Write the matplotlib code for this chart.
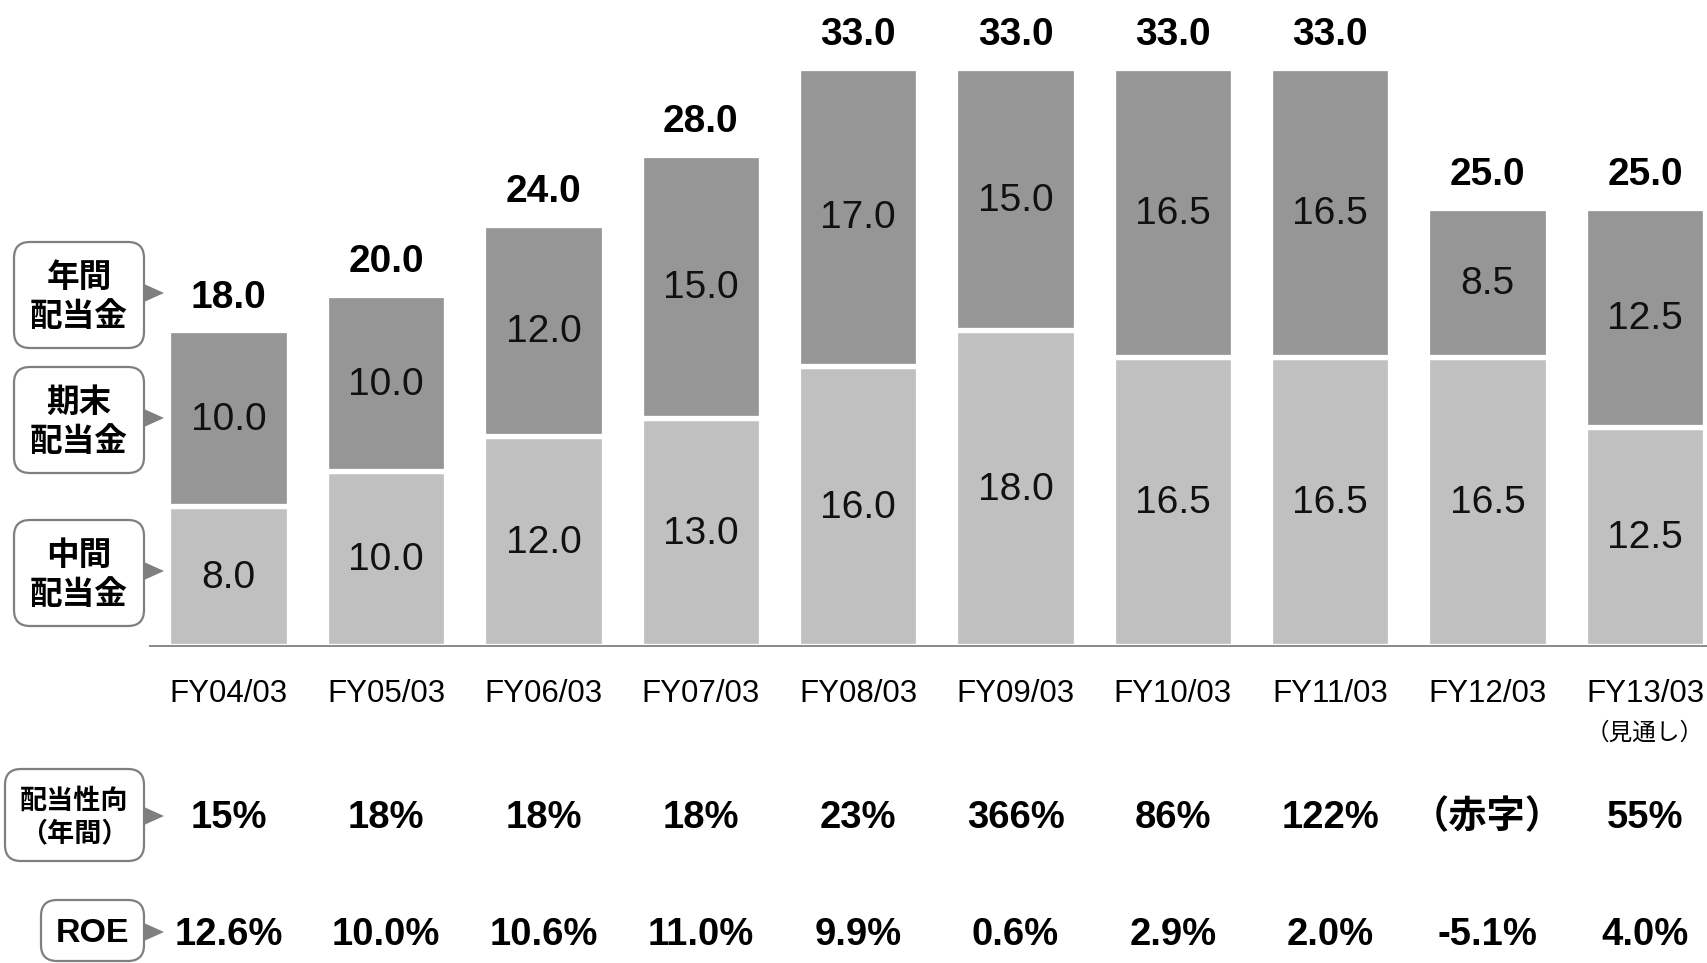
import matplotlib
matplotlib.use("Agg")
import matplotlib.pyplot as plt
from matplotlib.patches import FancyBboxPatch, Polygon

plt.rcParams['font.family'] = ['Liberation Sans', 'Noto Sans CJK JP']

categories = ["FY04/03", "FY05/03", "FY06/03", "FY07/03", "FY08/03",
              "FY09/03", "FY10/03", "FY11/03", "FY12/03", "FY13/03"]
interim = [8.0, 10.0, 12.0, 13.0, 16.0, 18.0, 16.5, 16.5, 16.5, 12.5]
year_end = [10.0, 10.0, 12.0, 15.0, 17.0, 15.0, 16.5, 16.5, 8.5, 12.5]
totals = [18.0, 20.0, 24.0, 28.0, 33.0, 33.0, 33.0, 33.0, 25.0, 25.0]
payout = ["15%", "18%", "18%", "18%", "23%", "366%", "86%", "122%", "（赤字）", "55%"]
roe = ["12.6%", "10.0%", "10.6%", "11.0%", "9.9%", "0.6%", "2.9%", "2.0%", "-5.1%", "4.0%"]
note_last = "（見通し）"

W, H = 1708, 963
fig = plt.figure(figsize=(W / 100, H / 100), dpi=100)

BASE = 646.0   # pixel y of baseline (from top)
PPU = 17.53    # pixels per unit
LEFT = 149.0

ax = fig.add_axes([LEFT / W, 0, (W - LEFT) / W, 1])
ax.set_xlim(-0.506, 9.4)
ax.set_ylim((BASE - H) / PPU, BASE / PPU)
ax.axis('off')

def py(p):
    return (BASE - p) / PPU

light = "#c0c0c0"
dark = "#969696"
x = list(range(len(categories)))
bw = 0.765
ax.bar(x, interim, width=bw, color=light, edgecolor="white", linewidth=3.8, zorder=2)
ax.bar(x, year_end, bottom=interim, width=bw, color=dark, edgecolor="white", linewidth=3.8, zorder=2)
ax.plot([-0.506, 9.4], [0, 0], color="#808080", lw=1.3, zorder=3)

for i in x:
    ax.text(i, interim[i] / 2 - 0.1, f"{interim[i]:.1f}", ha='center', va='center', fontsize=28, color='#111111')
    ax.text(i, interim[i] + year_end[i] / 2 - 0.1, f"{year_end[i]:.1f}", ha='center', va='center', fontsize=28, color='#111111')
    ax.text(i, totals[i] + 1.88, f"{totals[i]:.1f}", ha='center', va='center', fontsize=28, fontweight='bold')
    ax.text(i, py(694), categories[i], ha='center', va='center', fontsize=22.5)
    ax.text(i, py(818), payout[i], ha='center', va='center', fontsize=27.5, fontweight='bold')
    ax.text(i, py(935), roe[i], ha='center', va='center', fontsize=27.5, fontweight='bold')
ax.text(9, py(734), note_last, ha='center', va='center', fontsize=17)

# overlay for callout boxes (pixel coords)
ov = fig.add_axes([0, 0, 1, 1], zorder=5)
ov.set_xlim(0, W)
ov.set_ylim(H, 0)
ov.axis('off')
ov.patch.set_alpha(0)

boxes = [
    (14, 242, 144, 348, "年間\n配当金", 23.5, 1.36, 293),
    (14, 367, 144, 473, "期末\n配当金", 23.5, 1.36, 418),
    (14, 520, 144, 626, "中間\n配当金", 23.5, 1.36, 571),
    (5, 769, 144, 861, "配当性向\n（年間）", 19.5, 1.36, 816),
    (41, 900, 144, 961, "ROE", 24.5, 1.2, 932),
]
for x0, y0, x1, y1, label, fs, ls, ty in boxes:
    p = FancyBboxPatch((x0, y0), x1 - x0, y1 - y0,
                       boxstyle="round,pad=0,rounding_size=16",
                       facecolor="white", edgecolor="#7f7f7f", lw=1.6)
    ov.add_patch(p)
    ov.text((x0 + x1) / 2, (y0 + y1) / 2 + 3, label, ha='center', va='center',
            fontsize=fs, fontweight='bold', linespacing=ls)
    tri = Polygon([(144, ty - 9), (144, ty + 9), (164, ty)], closed=True,
                  facecolor="#7f7f7f", edgecolor="none")
    ov.add_patch(tri)

fig.savefig("out.png", dpi=100)
